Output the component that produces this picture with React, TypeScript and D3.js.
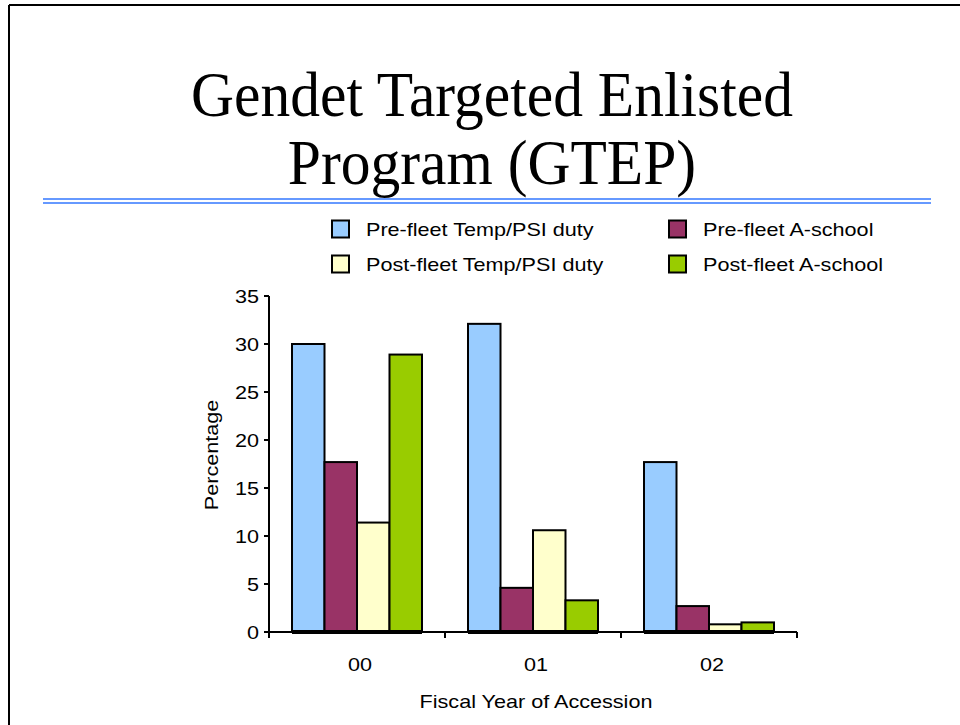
import React from "react";
import * as d3 from "d3";

const categories = ["00", "01", "02"];
const seriesNames = [
  "Pre-fleet Temp/PSI duty",
  "Pre-fleet A-school",
  "Post-fleet Temp/PSI duty",
  "Post-fleet A-school",
];
const preFleetTemp = [30.0, 32.1, 17.7];
const preFleetASchool = [17.7, 4.6, 2.7];
const postFleetTemp = [11.4, 10.6, 0.8];
const postFleetASchool = [28.9, 3.3, 1.0];
const seriesColors = ["#99CCFF", "#993366", "#FFFFCC", "#99CC00"];
const yTicks = [0, 5, 10, 15, 20, 25, 30, 35];
const titleLines = ["Gendet Targeted Enlisted", "Program (GTEP)"];
const xTitle = "Fiscal Year of Accession";
const yTitle = "Percentage";

const seriesValues = [preFleetTemp, preFleetASchool, postFleetTemp, postFleetASchool];

export default function App() {
  const W = 960, H = 725;
  const x0 = 269, x1 = 797, yTop = 296, yBot = 632;
  const x = d3.scaleBand<string>().domain(categories).range([x0, x1]).paddingInner(0).paddingOuter(0);
  const y = d3.scaleLinear().domain([0, 35]).range([yBot, yTop]);
  const inner = d3
    .scaleBand<string>()
    .domain(seriesNames)
    .range([23, x.bandwidth() - 23])
    .padding(0);
  const sans = "Arial, 'Liberation Sans', sans-serif";
  const serif = "'Times New Roman', 'Liberation Serif', serif";
  const fs = 18;
  const sx = 1.2; // chart text is horizontally stretched in the original

  const legendItems = seriesNames.map((n, i) => ({
    name: n,
    color: seriesColors[i],
    col: i % 2,
    row: Math.floor(i / 2),
  }));
  const legendX = [332, 669];
  const legendY = [229, 264];
  const sq = 17;

  const T = (props: {
    x: number;
    y: number;
    anchor?: "start" | "middle" | "end";
    rotate?: number;
    children: React.ReactNode;
  }) => (
    <g transform={`translate(${props.x},${props.y}) rotate(${props.rotate || 0}) scale(${sx},1)`}>
      <text
        x={0}
        y={0}
        textAnchor={props.anchor || "start"}
        fontFamily={sans}
        fontSize={fs}
        fill="#000"
      >
        {props.children}
      </text>
    </g>
  );

  return (
    <svg
      width={W}
      height={H}
      style={{ position: "absolute", left: 0, top: 0, background: "#fff" }}
    >
      <rect x={0} y={0} width={W} height={H} fill="#fff" />
      <line x1={9} y1={5} x2={W} y2={5} stroke="#000" strokeWidth={2} />
      <line x1={9} y1={5} x2={9} y2={H} stroke="#000" strokeWidth={2} />

      {titleLines.map((t, i) => (
        <g key={t} transform={`translate(492,${116 + i * 68}) scale(0.93,1)`}>
          <text x={0} y={0} textAnchor="middle" fontFamily={serif} fontSize={64} fill="#000">
            {t}
          </text>
        </g>
      ))}
      <line x1={43} x2={931} y1={199} y2={199} stroke="#6699FF" strokeWidth={2} />
      <line x1={43} x2={931} y1={203} y2={203} stroke="#6699FF" strokeWidth={2} />

      {legendItems.map((it) => (
        <g key={it.name}>
          <rect
            x={legendX[it.col]}
            y={legendY[it.row] - sq / 2}
            width={sq}
            height={sq}
            fill={it.color}
            stroke="#000"
            strokeWidth={2}
          />
          <T x={legendX[it.col] + 34} y={legendY[it.row] + 6.5}>
            {it.name}
          </T>
        </g>
      ))}

      {categories.map((c, cIdx) => (
        <g key={c}>
          {seriesNames.map((s, si) => {
            const v = seriesValues[si][cIdx];
            const bx = (x(c) as number) + (inner(s) as number);
            return (
              <rect
                key={s}
                x={bx}
                y={y(v)}
                width={inner.bandwidth()}
                height={y(0) - y(v)}
                fill={seriesColors[si]}
                stroke="#000"
                strokeWidth={2}
              />
            );
          })}
          <line
            x1={(x(c) as number) + (inner(seriesNames[0]) as number)}
            x2={(x(c) as number) + (inner(seriesNames[3]) as number) + inner.bandwidth()}
            y1={y(0)}
            y2={y(0)}
            stroke="#000"
            strokeWidth={4}
          />
        </g>
      ))}

      <line x1={x0} x2={x0} y1={yTop} y2={yBot + 6} stroke="#000" strokeWidth={2} />
      {yTicks.map((t) => (
        <g key={t}>
          <line x1={x0 - 5} x2={x0} y1={y(t)} y2={y(t)} stroke="#000" strokeWidth={2} />
          <T x={x0 - 10} y={y(t) + 6.5} anchor="end">
            {t}
          </T>
        </g>
      ))}
      <line x1={x0} x2={x1} y1={yBot} y2={yBot} stroke="#000" strokeWidth={2} />
      {categories.map((c) => (
        <g key={c}>
          <line
            x1={(x(c) as number) + x.bandwidth()}
            x2={(x(c) as number) + x.bandwidth()}
            y1={yBot}
            y2={yBot + 6}
            stroke="#000"
            strokeWidth={2}
          />
          <T x={(x(c) as number) + x.bandwidth() / 2 + 3} y={671} anchor="middle">
            {c}
          </T>
        </g>
      ))}
      <T x={536} y={708} anchor="middle">
        {xTitle}
      </T>
      <T x={218} y={455} anchor="middle" rotate={-90}>
        {yTitle}
      </T>
    </svg>
  );
}
